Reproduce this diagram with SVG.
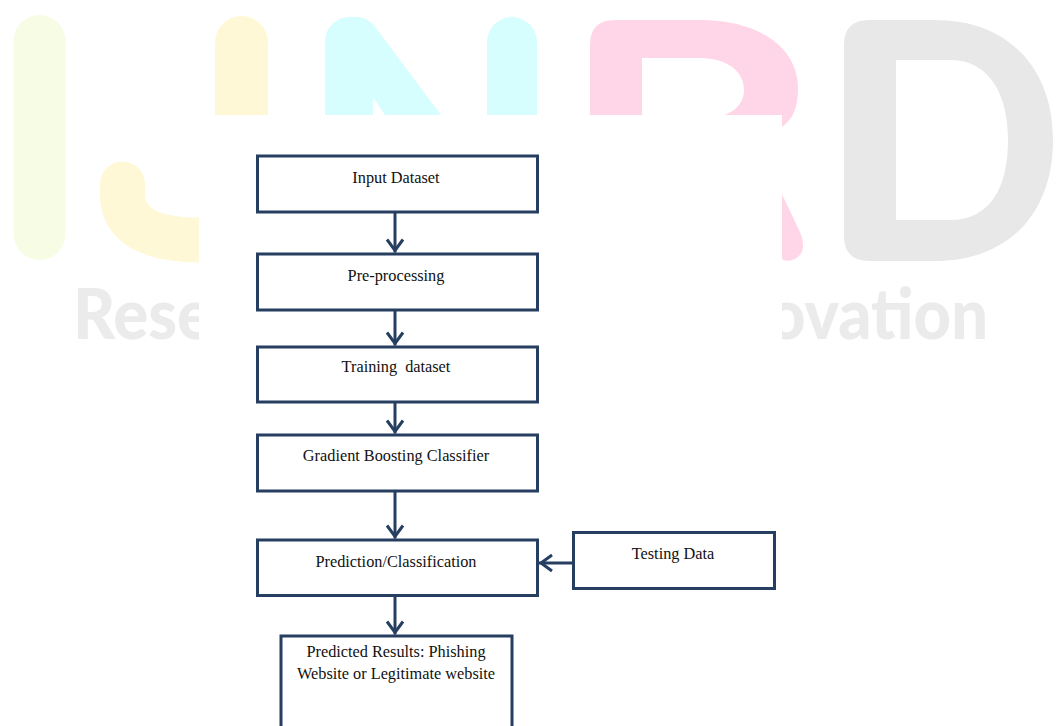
<svg xmlns="http://www.w3.org/2000/svg" width="1057" height="726" viewBox="0 0 1057 726">
<style>
.box{fill:#ffffff;stroke:#263f61;stroke-width:3}
.lbl{font-family:"Liberation Serif","Times New Roman",serif;font-size:16.3px;fill:#111111;text-anchor:middle}
.wm{font-family:Lato,"Liberation Sans",sans-serif;font-weight:900;font-size:70px;fill:#ebebeb}
.conn{stroke:#263f61;stroke-width:3;fill:none}
</style>
<defs>
<marker id="ah" markerUnits="userSpaceOnUse" markerWidth="20" markerHeight="20" viewBox="-14 -10 16 20" refX="0" refY="0" orient="auto" overflow="visible">
<path d="M-13,-8 L-2,0 L-13,8" fill="none" stroke="#263f61" stroke-width="3"/>
</marker>
</defs>
<rect width="1057" height="726" fill="#ffffff"/>
<g id="watermark">
<rect x="13.5" y="15" width="52" height="245" rx="26" fill="#f7fde4"/>
<rect x="215" y="16" width="53" height="200" rx="26.5" fill="#fff8d6"/>
<path d="M122.5,184 L122.5,195 C122.5,225 150,240 200,240 L240,240" fill="none" stroke="#fff8d6" stroke-width="45" stroke-linecap="round"/>
<path d="M325,115 L325,42 C325,27 337,17 350,17 L356,17 C365,17 371,21 376,28 L441,115 L385,115 L373,97 L373,115 Z" fill="#d6fefe"/>
<rect x="487" y="17" width="50" height="150" rx="25" fill="#d6fefe"/>
<path fill-rule="evenodd" fill="#ffd6e7" d="M590,262 L590,45 Q590,20 615,20 L700,20 C762,20 798,50 798,88 C798,108 793,119 782,127 L760,148 L800,232 Q808,252 795,259 Q782,265 772,250 L700,150 L640,150 L640,262 Z M642,58 L700,58 C728,58 744,72 744,90 C744,106 730,118 705,118 L642,118 Z"/>
<path fill-rule="evenodd" fill="#e8e8e8" d="M844,45 Q844,20 869,20 L935,20 C1010,20 1053,70 1053,140 C1053,212 1010,261 935,261 L869,261 Q844,261 844,236 Z M896,60 L950,60 C990,60 1008,95 1008,140 C1008,188 990,220 950,220 L896,220 Z"/>
<text class="wm" x="73" y="339" textLength="139" lengthAdjust="spacingAndGlyphs">Rese</text>
<text class="wm" x="768" y="339" textLength="220" lengthAdjust="spacingAndGlyphs">ovation</text>
<rect x="199" y="115" width="583" height="611" fill="#ffffff"/>
</g>
<g id="connectors">
<line class="conn" x1="395" y1="213" x2="395" y2="252.5" marker-end="url(#ah)"/>
<line class="conn" x1="395" y1="311" x2="395" y2="345.5" marker-end="url(#ah)"/>
<line class="conn" x1="395" y1="403" x2="395" y2="433.5" marker-end="url(#ah)"/>
<line class="conn" x1="395" y1="492" x2="395" y2="538.5" marker-end="url(#ah)"/>
<line class="conn" x1="395" y1="596" x2="395" y2="634.5" marker-end="url(#ah)"/>
<line class="conn" x1="572" y1="563" x2="539" y2="563" marker-end="url(#ah)"/>
</g>
<g id="n1"><rect class="box" x="257.5" y="156" width="280" height="56"/><text class="lbl" x="396" y="183">Input Dataset</text></g>
<g id="n2"><rect class="box" x="257.5" y="254" width="280" height="56"/><text class="lbl" x="396" y="281">Pre-processing</text></g>
<g id="n3"><rect class="box" x="257.5" y="347" width="280" height="55"/><text class="lbl" x="396" y="372" word-spacing="4">Training dataset</text></g>
<g id="n4"><rect class="box" x="257.5" y="435" width="280" height="56"/><text class="lbl" x="396" y="461">Gradient Boosting Classifier</text></g>
<g id="n5"><rect class="box" x="257.5" y="540" width="280" height="55.5"/><text class="lbl" x="396" y="567">Prediction/Classification</text></g>
<g id="n6"><rect class="box" x="573.5" y="532.5" width="201" height="56"/><text class="lbl" x="673" y="559">Testing Data</text></g>
<g id="n7"><rect class="box" x="281" y="636" width="231" height="110"/><text class="lbl" x="396" y="657">Predicted Results: Phishing</text><text class="lbl" x="396" y="679">Website or Legitimate website</text></g>
</svg>
